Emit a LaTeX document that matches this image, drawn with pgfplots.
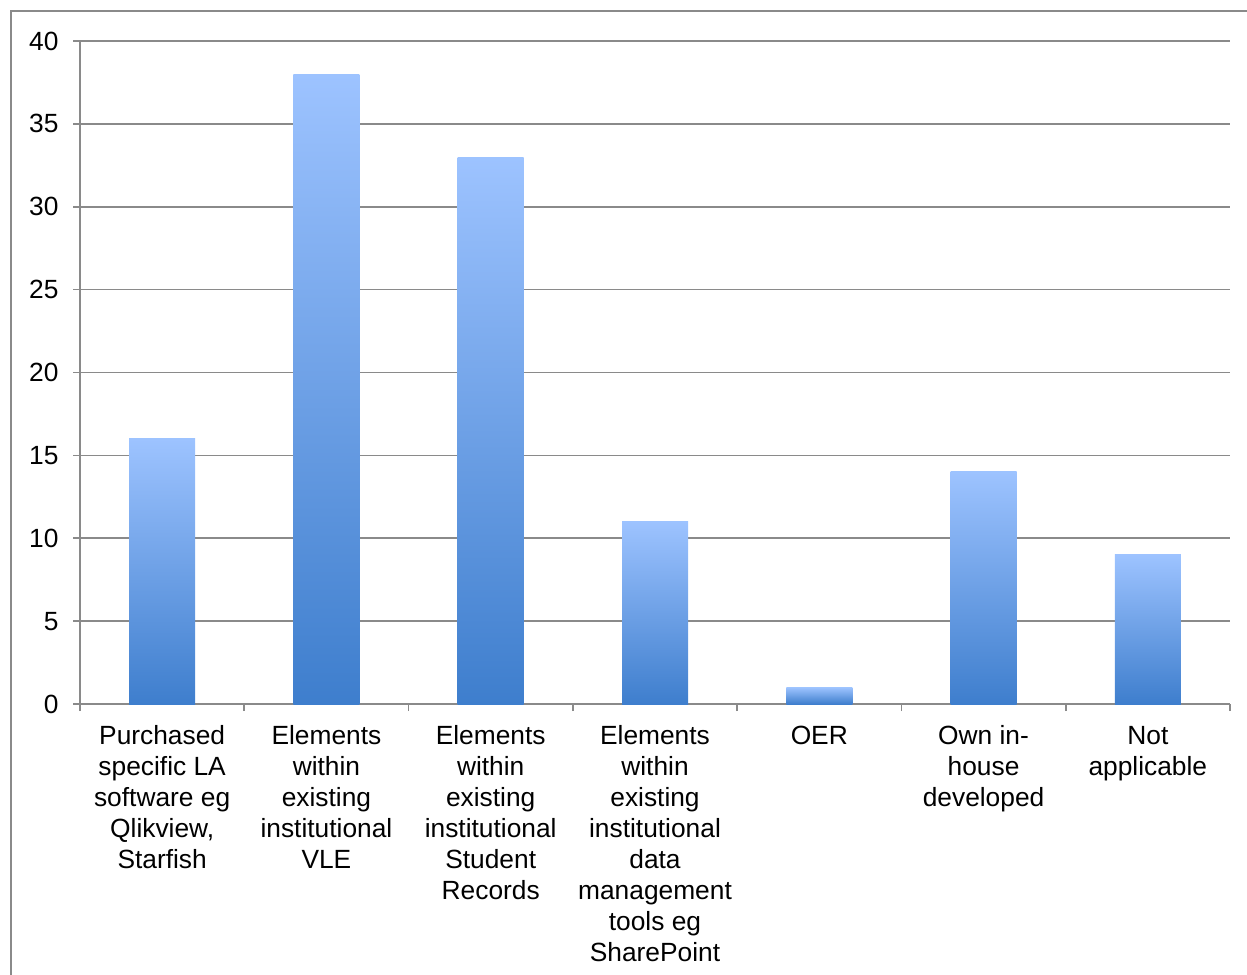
\documentclass[border=0pt]{standalone}
\usepackage{fontspec}
\setmainfont{Liberation Sans}
\usepackage{pgfplots}
\pgfplotsset{compat=1.18}
\definecolor{gridgray}{RGB}{138,138,138}
\definecolor{bartop}{RGB}{157,195,255}
\definecolor{barbot}{RGB}{62,126,205}

% every bar carries its own gradient, light at the top, deep blue at the base
\pgfplotsset{gradbar/.style={ybar, bar width=39.6pt, bar shift=0pt, draw=none,
  top color=bartop, bottom color=barbot, forget plot}}

\begin{document}
\begin{tikzpicture}
\begin{axis}[
  name=ax, at={(0,0)}, anchor=south west,
  scale only axis, width=690pt, height=397.8pt,
  xmin=-0.5, xmax=6.5, ymin=0, ymax=40,
  ytick={0,5,...,40},
  xtick={-0.5,0.5,...,6.5},
  x tick label as interval,
  xticklabels={
    {Purchased\\specific LA\\software eg\\Qlikview,\\Starfish},
    {Elements\\within\\existing\\institutional\\VLE},
    {Elements\\within\\existing\\institutional\\Student\\Records},
    {Elements\\within\\existing\\institutional\\data\\management\\tools eg\\SharePoint},
    {OER},
    {Own in-\\house\\developed},
    {Not\\applicable}},
  axis x line=bottom, axis y line=left,
  axis line style={-, draw=gridgray, line width=1pt},
  ymajorgrids, grid style={gridgray, line width=1pt},
  tick align=outside, major tick length=4.2pt,
  tick style={gridgray, line width=1pt},
  font=\fontsize{15.8}{18.6}\selectfont,
  xticklabel style={align=center, anchor=north, yshift=-5.4pt},
  yticklabel style={xshift=-5.2pt},
  /pgf/number format/assume math mode=true,
  clip=false,
]
\addplot[gradbar] coordinates {(0,16)};
\addplot[gradbar] coordinates {(1,38)};
\addplot[gradbar] coordinates {(2,33)};
\addplot[gradbar] coordinates {(3,11)};
\addplot[gradbar] coordinates {(4,1)};
\addplot[gradbar] coordinates {(5,14)};
\addplot[gradbar] coordinates {(6,9)};
\end{axis}
\path[use as bounding box] ([shift={(-48pt,-162pt)}]ax.south west) rectangle ([shift={(700.2pt,422.4pt)}]ax.south west);
\draw[gridgray, line width=1.2pt] ([shift={(-41.4pt,-180pt)}]ax.south west) -- ([shift={(-41.4pt,415.8pt)}]ax.south west) -- ([shift={(720pt,415.8pt)}]ax.south west);
\end{tikzpicture}
\end{document}
